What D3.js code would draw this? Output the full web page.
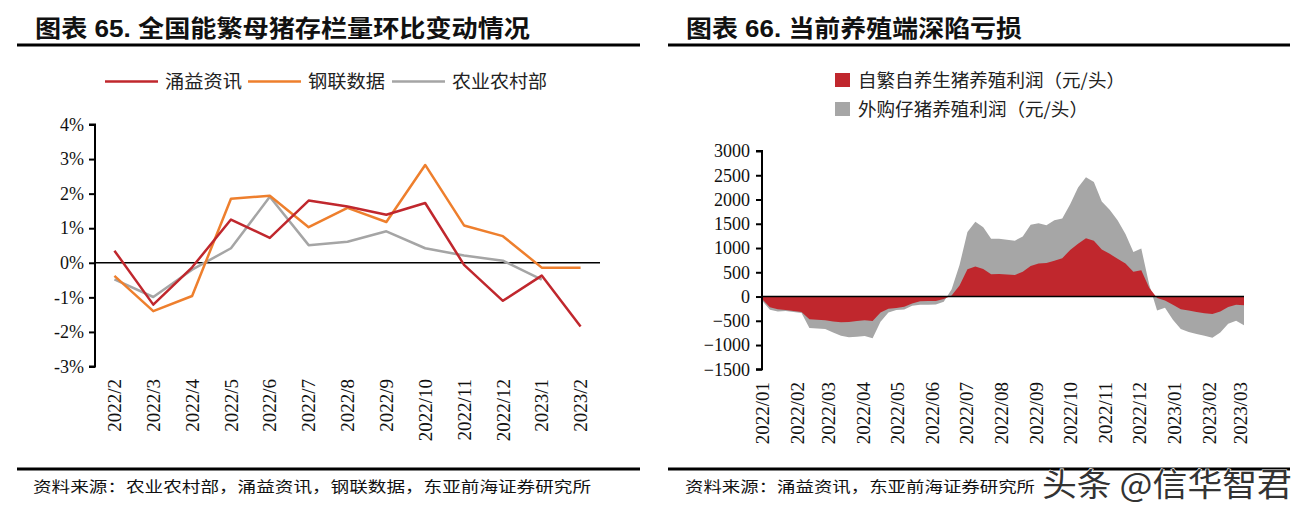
<!DOCTYPE html>
<html><head><meta charset="utf-8">
<script src="https://cdn.jsdelivr.net/npm/d3@7/dist/d3.min.js"></script>
<style>
html,body{margin:0;padding:0;background:#fff;}
svg{display:block;}
</style></head>
<body>
<svg id="c" width="1307" height="509"></svg>
<script>
// ---------- Left chart data ----------
const leftCategories = ["2022/2","2022/3","2022/4","2022/5","2022/6","2022/7","2022/8","2022/9","2022/10","2022/11","2022/12","2023/1","2023/2"];
const yongyiValues   = [0.35,-1.21,-0.13,1.25,0.72,1.80,1.63,1.39,1.73,-0.06,-1.10,-0.37,-1.84];
const ganglianValues = [-0.38,-1.40,-0.96,1.85,1.94,1.03,1.59,1.18,2.83,1.08,0.77,-0.14,-0.14];
const moaValues      = [-0.48,-0.99,-0.20,0.42,1.91,0.51,0.61,0.91,0.42,0.21,0.06,-0.49,null];
const leftSeriesNames = ["涌益资讯","钢联数据","农业农村部"];
const leftYTicks = [-3,-2,-1,0,1,2,3,4];

// ---------- Right chart data (weekly) ----------
const rightStartDate = "2022-01-01";
const selfBredProfit = [-50,-220,-260,-280,-300,-320,-470,-480,-490,-515,-530,-525,-505,-490,-505,-330,-250,-235,-210,-145,-95,-90,-90,-50,20,230,560,620,570,460,465,455,445,510,630,680,690,740,790,960,1090,1200,1150,970,880,780,680,510,540,180,-30,-80,-170,-260,-290,-320,-345,-360,-310,-215,-170,-180];
const purchasedPigletProfit = [-80,-270,-310,-300,-320,-340,-650,-660,-670,-740,-810,-840,-830,-815,-860,-520,-330,-280,-265,-190,-170,-170,-165,-110,150,650,1330,1540,1430,1190,1190,1170,1150,1240,1480,1510,1470,1570,1610,1900,2250,2460,2360,1960,1790,1570,1290,920,990,250,-290,-230,-480,-670,-730,-770,-810,-850,-740,-560,-500,-590];
const rightSeriesNames = ["自繁自养生猪养殖利润（元/头）","外购仔猪养殖利润（元/头）"];
const rightXTickLabels = ["2022/01","2022/02","2022/03","2022/04","2022/05","2022/06","2022/07","2022/08","2022/09","2022/10","2022/11","2022/12","2023/01","2023/02","2023/03"];
const rightYTicks = [-1500,-1000,-500,0,500,1000,1500,2000,2500,3000];

const RED = "#c0272d", ORANGE = "#ee7f2d", GRAY = "#a5a5a5", AREA_GRAY = "#a6a6a6";
const serif = "'Liberation Serif','Times New Roman',serif";
const cjk = "'Noto Sans CJK SC','Noto Sans',sans-serif";
const titleFont = "'Liberation Sans','Noto Sans CJK SC',sans-serif";

const svg = d3.select("#c");

// ---------- Titles, rules, footers ----------
function header(x, text, x1, x2, len) {
  svg.append("text").attr("x", x).attr("y", 37).attr("font-family", titleFont)
    .attr("font-weight", "bold").attr("font-size", 24).attr("fill", "#111")
    .attr("textLength", len).attr("lengthAdjust", "spacingAndGlyphs").text(text);
  svg.append("line").attr("x1", x1).attr("x2", x2).attr("y1", 45).attr("y2", 45)
    .attr("stroke", "#000").attr("stroke-width", 3);
}
header(35, "图表 65. 全国能繁母猪存栏量环比变动情况", 17, 640, 495);
header(686, "图表 66. 当前养殖端深陷亏损", 668, 1290, 336);

function footer(x, text, x1, x2, len) {
  svg.append("line").attr("x1", x1).attr("x2", x2).attr("y1", 469).attr("y2", 469)
    .attr("stroke", "#000").attr("stroke-width", 3);
  svg.append("text").attr("x", x).attr("y", 492).attr("font-family", cjk)
    .attr("font-size", 15).attr("fill", "#111")
    .attr("textLength", len).attr("lengthAdjust", "spacingAndGlyphs").text(text);
}
footer(33, "资料来源：农业农村部，涌益资讯，钢联数据，东亚前海证券研究所", 17, 640, 558);
footer(685, "资料来源：涌益资讯，东亚前海证券研究所", 668, 1290, 350);

// ---------- Left chart ----------
const xL = d3.scaleBand().domain(leftCategories).range([95, 600]);
const yL = d3.scaleLinear().domain([-3, 4]).range([366.5, 124.5]);
const gL = svg.append("g");

// legend
const legendL = [
  {name: leftSeriesNames[0], color: RED, x: 105, len: 77},
  {name: leftSeriesNames[1], color: ORANGE, x: 248, len: 77},
  {name: leftSeriesNames[2], color: GRAY, x: 392, len: 95}
];
legendL.forEach(d => {
  gL.append("line").attr("x1", d.x).attr("x2", d.x + 53).attr("y1", 81.5).attr("y2", 81.5)
    .attr("stroke", d.color).attr("stroke-width", 2.5);
  gL.append("text").attr("x", d.x + 60).attr("y", 88).attr("font-family", cjk)
    .attr("font-size", 18).attr("fill", "#222")
    .attr("textLength", d.len).attr("lengthAdjust", "spacingAndGlyphs").text(d.name);
});

// y axis
const axL = d3.axisLeft(yL).tickValues(leftYTicks).tickSize(6).tickPadding(5)
  .tickFormat(d => d + "%");
const axLG = gL.append("g").attr("transform", "translate(95,0)").call(axL);
axLG.select(".domain").attr("stroke", "#000").attr("stroke-width", 2).attr("d", "M-6,124.5H0V366.5H-6");
axLG.selectAll(".tick line").attr("stroke", "#000").attr("stroke-width", 2);
axLG.selectAll(".tick text").attr("font-family", serif).attr("font-size", 18).attr("fill", "#111");

// zero line
gL.append("line").attr("x1", xL.range()[0]).attr("x2", xL.range()[1]).attr("y1", yL(0)).attr("y2", yL(0))
  .attr("stroke", "#000").attr("stroke-width", 1.5);

// x labels
gL.selectAll(".xl").data(leftCategories).enter().append("text")
  .attr("transform", d => `translate(${xL(d) + xL.bandwidth() / 2},379) rotate(-90)`)
  .attr("text-anchor", "end").attr("dy", "0.35em")
  .attr("font-family", serif).attr("font-size", 19).attr("fill", "#111").text(d => d);

// lines
const lineL = d3.line().defined(d => d.v != null)
  .x(d => xL(d.c) + xL.bandwidth() / 2).y(d => yL(d.v));
[[moaValues, GRAY], [ganglianValues, ORANGE], [yongyiValues, RED]].forEach(([vals, col]) => {
  gL.append("path").datum(leftCategories.map((c, i) => ({c, v: vals[i]})))
    .attr("d", lineL).attr("fill", "none").attr("stroke", col).attr("stroke-width", 2.5)
    .attr("stroke-linejoin", "round");
});

// ---------- Right chart ----------
const parseDay = d3.timeParse("%Y-%m-%d");
const start = parseDay(rightStartDate);
const dates = selfBredProfit.map((_, i) => d3.timeDay.offset(start, 7 * i));
const xR = d3.scaleTime().domain([dates[0], dates[dates.length - 1]]).range([762, 1244]);
const yR = d3.scaleLinear().domain([-1500, 3000]).range([369.3, 151]);
const gR = svg.append("g");

// legend
const legendR = [
  {name: rightSeriesNames[0], color: RED, y: 73, len: 267},
  {name: rightSeriesNames[1], color: AREA_GRAY, y: 102, len: 230}
];
legendR.forEach(d => {
  gR.append("rect").attr("x", 835).attr("y", d.y).attr("width", 15).attr("height", 14).attr("fill", d.color);
  gR.append("text").attr("x", 858).attr("y", d.y + 14).attr("font-family", cjk)
    .attr("font-size", 18).attr("fill", "#222")
    .attr("textLength", d.len).attr("lengthAdjust", "spacingAndGlyphs").text(d.name);
});

// areas
const areaR = d3.area().x((d, i) => xR(dates[i])).y0(yR(0)).y1(d => yR(d));
gR.append("path").datum(purchasedPigletProfit).attr("d", areaR).attr("fill", AREA_GRAY);
gR.append("path").datum(selfBredProfit).attr("d", areaR).attr("fill", RED);

// zero line
gR.append("line").attr("x1", 762).attr("x2", xR.range()[1]).attr("y1", yR(0)).attr("y2", yR(0))
  .attr("stroke", "#000").attr("stroke-width", 1.5);

// y axis
const axR = d3.axisLeft(yR).tickValues(rightYTicks).tickSize(6).tickPadding(6).tickFormat(d3.format("d"));
const axRG = gR.append("g").attr("transform", "translate(762,0)").call(axR);
axRG.select(".domain").attr("stroke", "#000").attr("stroke-width", 2).attr("d", "M-6,151H0V369.3H-6");
axRG.selectAll(".tick line").attr("stroke", "#000").attr("stroke-width", 2);
axRG.selectAll(".tick text").attr("font-family", serif).attr("font-size", 18).attr("fill", "#111");

// x labels
const parseMonth = d3.timeParse("%Y/%m");
gR.selectAll(".xr").data(rightXTickLabels).enter().append("text")
  .attr("transform", d => `translate(${xR(parseMonth(d))},382) rotate(-90)`)
  .attr("text-anchor", "end").attr("dy", "0.35em")
  .attr("font-family", serif).attr("font-size", 19).attr("fill", "#111").text(d => d);

// watermark
svg.append("text").attr("x", 1042).attr("y", 496).attr("font-family", cjk)
  .attr("font-size", 32).attr("fill", "#333").attr("stroke", "#fff").attr("stroke-width", 1.2)
  .attr("paint-order", "stroke").attr("textLength", 250).attr("lengthAdjust", "spacingAndGlyphs")
  .text("头条 @信华智君");
</script>
</body></html>
